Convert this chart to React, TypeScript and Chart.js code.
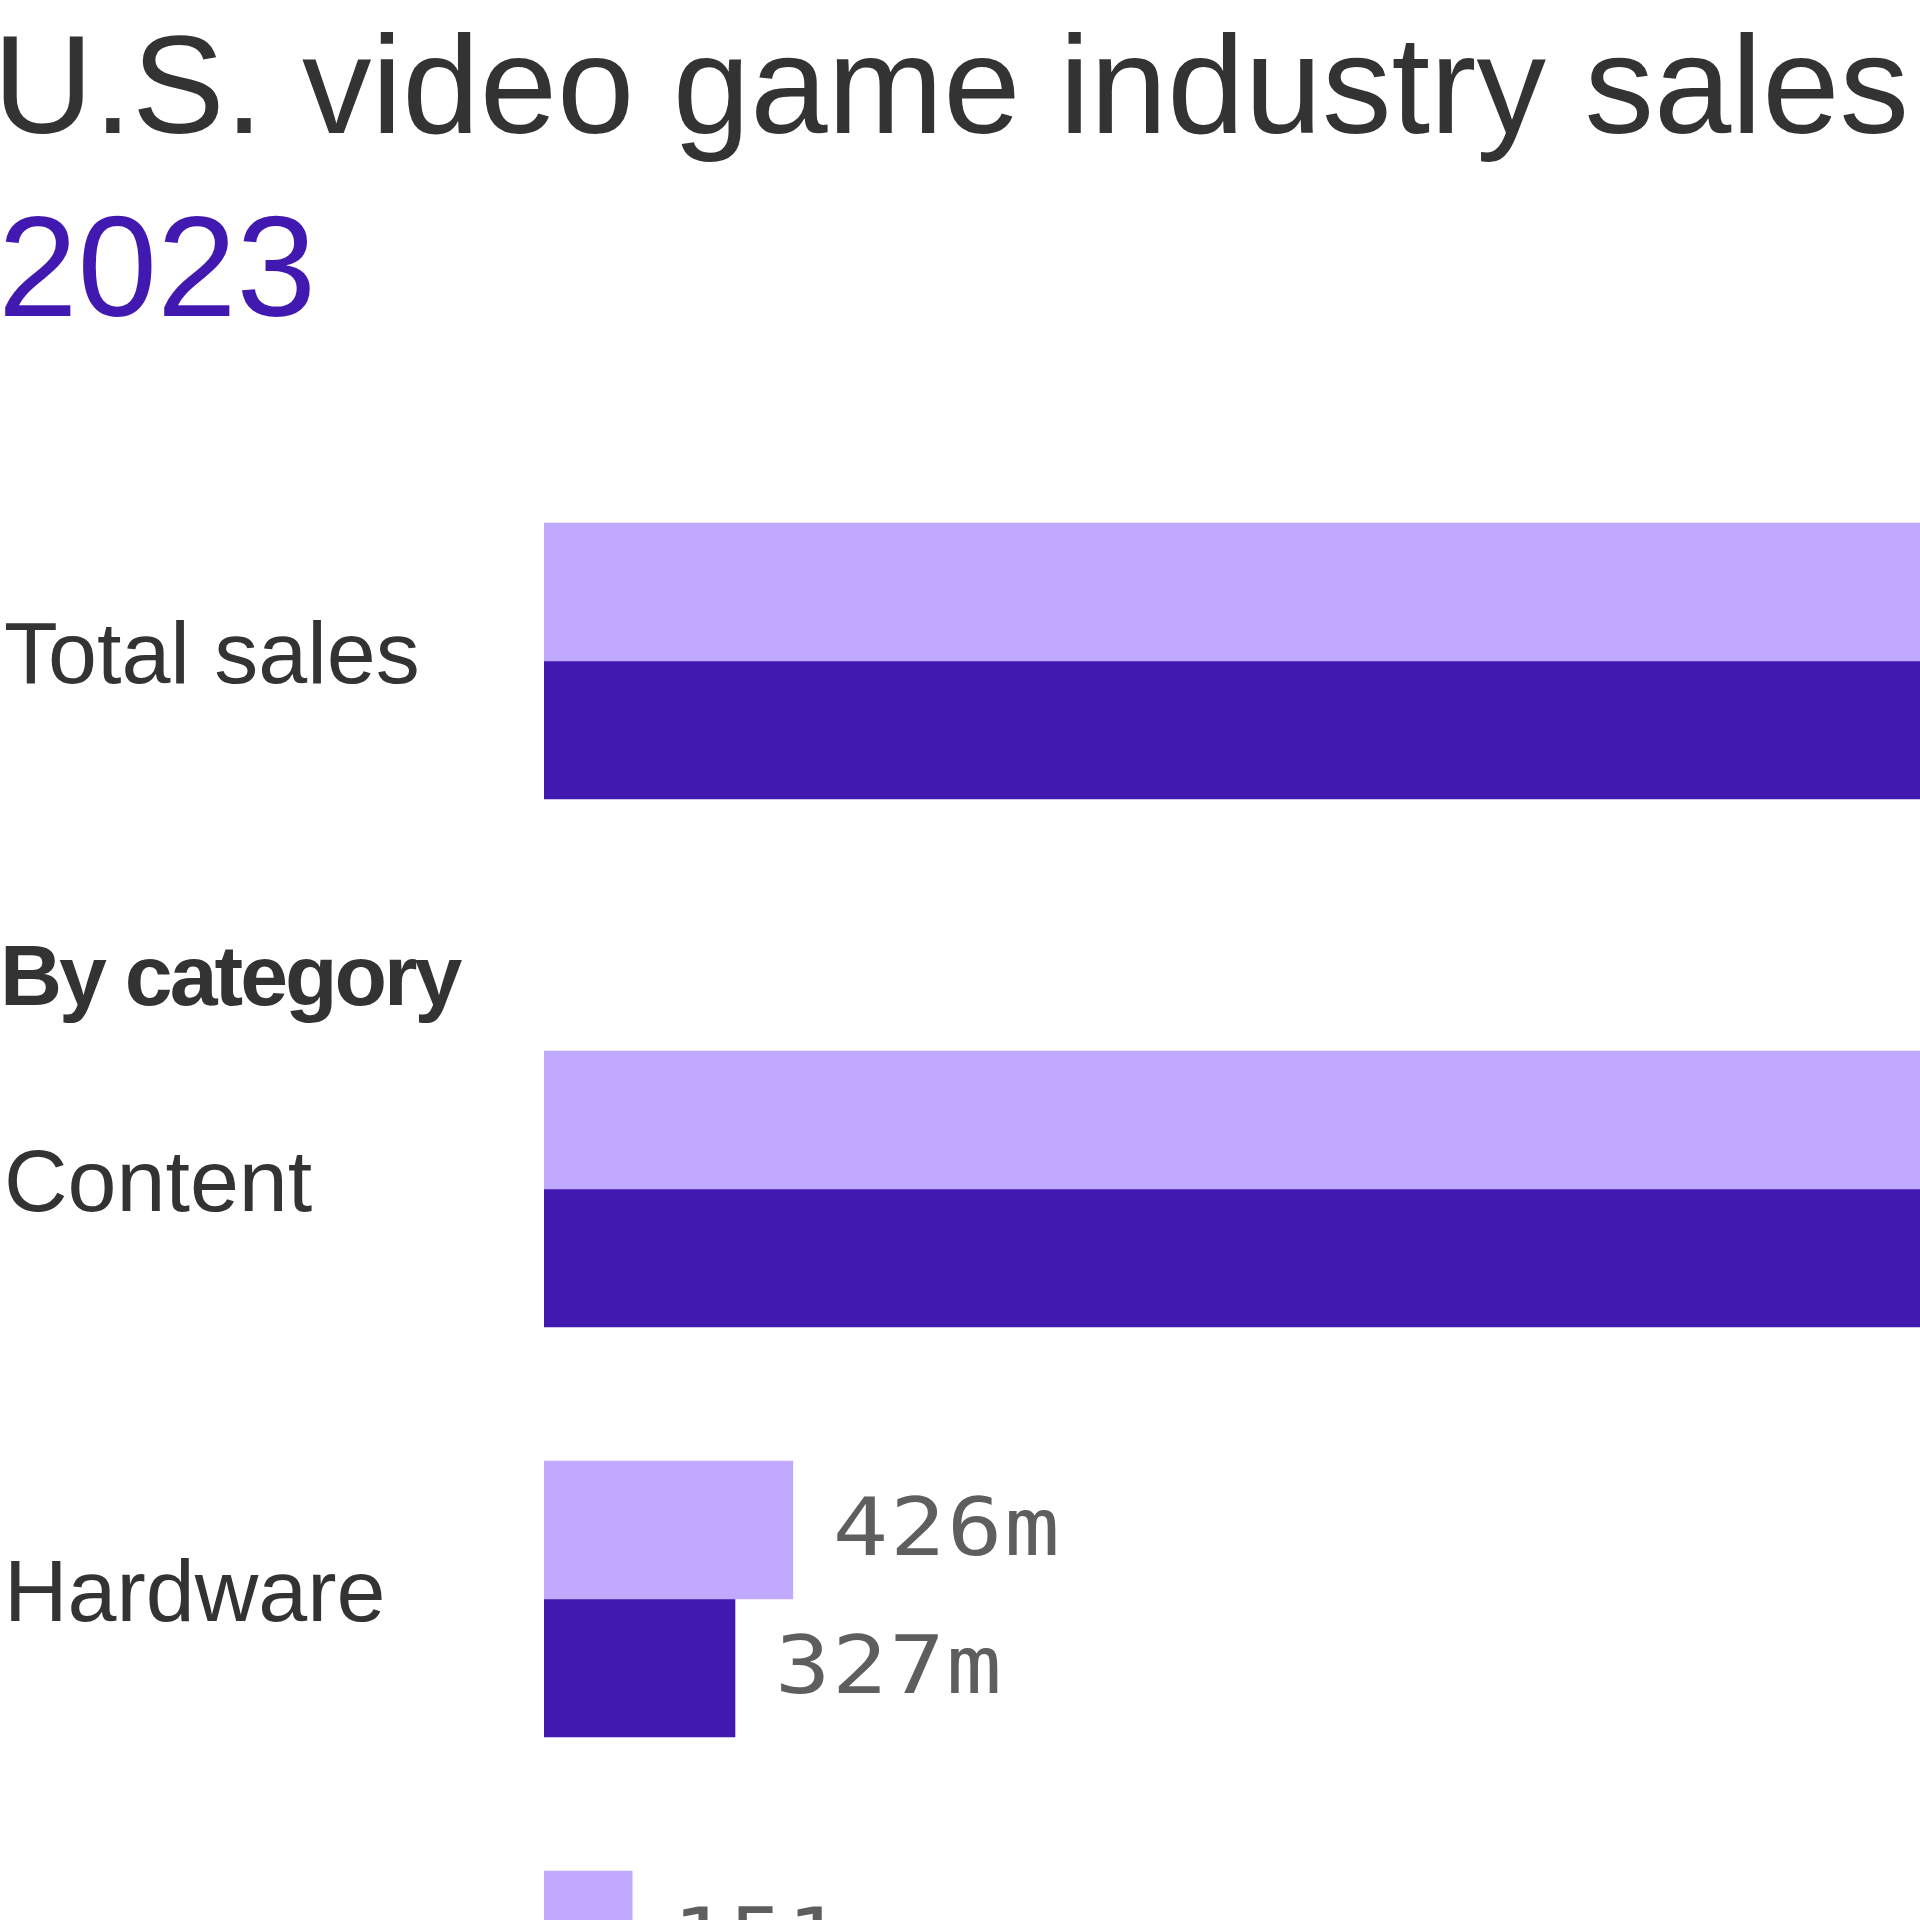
import React, { useEffect, useRef } from "react";
import { Chart, registerables } from "chart.js";

Chart.register(...registerables);

// ---- Data ----
const titleText = "U.S. video game industry sales";
const legendYear = "2023";
const sectionHeading = "By category";
const seriesNames = ["2022", "2023"];
const totalLabels = ["Total sales"];
const total2022 = [4265];
const total2023 = [4080];
const categoryLabels = ["Content", "Hardware", "Accessories"];
const category2022 = [3688, 426, 151];
const category2023 = [3615, 327, 138];
const valueSuffix = "m";
const xMax = 2356;

// ---- Styles ----
const LIGHT = "#c1a9ff";
const DARK = "#4219b0";
const TEXT = "#333333";
const LABEL_GREY = "#5e5e5e";
const SANS = '"Liberation Sans", Arial, sans-serif';
const MONO = '"DejaVu Sans Mono", "Liberation Mono", monospace';

const valueLabelPlugin = {
  id: "valueLabels",
  afterDatasetsDraw(chart: any) {
    const { ctx } = chart;
    chart.data.datasets.forEach((ds: any, di: number) => {
      const meta = chart.getDatasetMeta(di);
      meta.data.forEach((el: any, i: number) => {
        const v = ds.data[i];
        const x = el.x + 40;
        if (x > chart.width - 40) return;
        ctx.save();
        ctx.font = `80px ${MONO}`;
        ctx.fillStyle = LABEL_GREY;
        ctx.textAlign = "left";
        ctx.textBaseline = "middle";
        try {
          (ctx as any).letterSpacing = "1.5px";
        } catch (e) {}
        ctx.translate(x, el.y + 4);
        ctx.scale(1.15, 1);
        ctx.fillText(`${v}${valueSuffix}`, 0, 0);
        ctx.restore();
      });
    });
  },
};

function makeChart(canvas: HTMLCanvasElement, labels: string[], d2022: number[], d2023: number[]) {
  return new Chart(canvas, {
    type: "bar",
    data: {
      labels,
      datasets: [
        { label: seriesNames[0], data: d2022, backgroundColor: LIGHT, borderWidth: 0, barThickness: 138 },
        { label: seriesNames[1], data: d2023, backgroundColor: DARK, borderWidth: 0, barThickness: 138 },
      ],
    },
    options: {
      indexAxis: "y",
      responsive: false,
      animation: false,
      layout: { padding: { left: 4, right: 0, top: 0, bottom: 0 } },
      plugins: {
        legend: { display: false },
        tooltip: { enabled: false },
        title: { display: false },
      },
      scales: {
        x: { display: false, min: 0, max: xMax },
        y: {
          grid: { display: false },
          border: { display: false },
          ticks: {
            crossAlign: "far",
            color: TEXT,
            font: { family: SANS, size: 88 },
            autoSkip: false,
            labelOffset: -2,
            padding: 0,
          },
          afterFit: (s: any) => {
            s.width = 540;
            s.paddingTop = 0;
            s.paddingBottom = 0;
          },
        },
      },
    } as any,
    plugins: [valueLabelPlugin],
  });
}

export default function App() {
  const totalRef = useRef<HTMLCanvasElement | null>(null);
  const catRef = useRef<HTMLCanvasElement | null>(null);

  useEffect(() => {
    const c1 = makeChart(totalRef.current!, totalLabels, total2022, total2023);
    const c2 = makeChart(catRef.current!, categoryLabels, category2022, category2023);
    return () => {
      c1.destroy();
      c2.destroy();
    };
  }, []);

  return (
    <div
      style={{
        position: "absolute",
        left: 0,
        top: 0,
        width: 1920,
        height: 1920,
        overflow: "hidden",
        background: "#ffffff",
        fontFamily: SANS,
      }}
    >
      <div
        style={{
          position: "absolute",
          left: -7,
          top: 15,
          fontSize: 139,
          lineHeight: 1,
          color: TEXT,
          whiteSpace: "nowrap",
        }}
      >
        {titleText}
      </div>
      <div
        style={{
          position: "absolute",
          left: -2,
          top: 195,
          fontSize: 143,
          lineHeight: 1,
          color: DARK,
          whiteSpace: "nowrap",
        }}
      >
        {legendYear}
      </div>
      <canvas
        ref={totalRef}
        width={1920}
        height={410}
        style={{ position: "absolute", left: 0, top: 456, display: "block" }}
      />
      <div
        style={{
          position: "absolute",
          left: 0,
          top: 932,
          fontSize: 86,
          fontWeight: 700,
          letterSpacing: -3,
          lineHeight: 1,
          color: TEXT,
          whiteSpace: "nowrap",
        }}
      >
        {sectionHeading}
      </div>
      <canvas
        ref={catRef}
        width={1920}
        height={1230}
        style={{ position: "absolute", left: 0, top: 984, display: "block" }}
      />
    </div>
  );
}
